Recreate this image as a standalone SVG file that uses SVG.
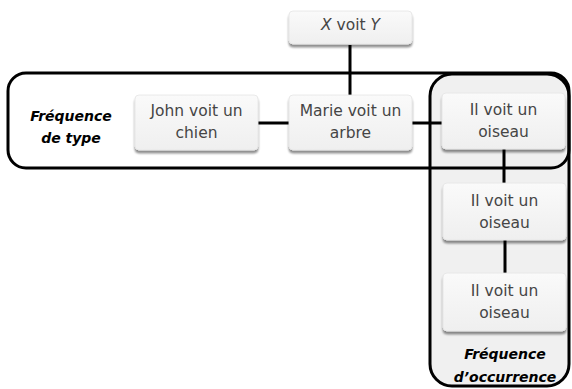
<svg xmlns="http://www.w3.org/2000/svg" width="572" height="389" viewBox="0 0 572 389">
  <defs>
    <linearGradient id="nodeFill" x1="0" y1="0" x2="0" y2="1">
      <stop offset="0" stop-color="#fafafa"/>
      <stop offset="1" stop-color="#efefef"/>
    </linearGradient>
    <filter id="shadow" x="-10%" y="-10%" width="120%" height="140%">
      <feGaussianBlur in="SourceAlpha" stdDeviation="1.2"/>
      <feOffset dx="0" dy="2.5" result="b"/>
      <feComponentTransfer><feFuncA type="linear" slope="0.45"/></feComponentTransfer>
      <feMerge><feMergeNode/><feMergeNode in="SourceGraphic"/></feMerge>
    </filter>
  </defs>
  <style>
    .node rect { fill: url(#nodeFill); stroke: #e4e4e4; stroke-width: 0.8; filter: url(#shadow); }
    .node text { font-family: "DejaVu Sans", Verdana, sans-serif; font-size: 15.5px; fill: #454545; text-anchor: middle; }
    .group { fill: none; stroke: #000; stroke-width: 3; }
    .glabel { font-family: "DejaVu Sans", Verdana, sans-serif; font-size: 14px; font-weight: bold; font-style: italic; fill: #000; text-anchor: middle; }
    .link { stroke: #000; stroke-width: 3; fill: none; }
  </style>

  <!-- grouping frames -->
  <g id="frames">
    <rect x="8" y="73" width="561" height="95" rx="18" fill="#fff" stroke="none"/>
    <rect x="430" y="74" width="139" height="312" rx="22" class="group" style="fill:#f0f0f0"/>
    <rect x="8" y="73" width="561" height="95" rx="18" class="group"/>
    <text class="glabel" x="71" y="121">Fréquence</text>
    <text class="glabel" x="71" y="143">de type</text>
    <text class="glabel" x="505" y="359">Fréquence</text>
    <text class="glabel" x="505" y="382">d’occurrence</text>
  </g>

  <!-- connectors -->
  <g id="connectors">
    <line class="link" x1="350" y1="45" x2="350" y2="96"/>
    <line class="link" x1="258" y1="123" x2="289" y2="123"/>
    <line class="link" x1="412" y1="123" x2="443" y2="123"/>
    <line class="link" x1="504" y1="149" x2="504" y2="184"/>
    <line class="link" x1="505" y1="240" x2="505" y2="274"/>
  </g>

  <g id="n-xvoity" class="node">
    <rect x="289" y="11" width="123" height="33" rx="4"/>
    <text x="350.5" y="30"><tspan font-style="italic">X</tspan> voit <tspan font-style="italic">Y</tspan></text>
  </g>
  <g id="n-john" class="node">
    <rect x="135" y="95" width="123" height="55" rx="4"/>
    <text x="196.5" y="116">John voit un</text>
    <text x="196.5" y="138">chien</text>
  </g>
  <g id="n-marie" class="node">
    <rect x="289" y="95" width="123" height="55" rx="4"/>
    <text x="350.5" y="116">Marie voit un</text>
    <text x="350.5" y="138">arbre</text>
  </g>
  <g id="n-oiseau1" class="node">
    <rect x="442" y="93" width="123" height="56" rx="4"/>
    <text x="503.5" y="115">Il voit un</text>
    <text x="503.5" y="137">oiseau</text>
  </g>
  <g id="n-oiseau2" class="node">
    <rect x="443" y="183" width="123" height="57" rx="4"/>
    <text x="504.5" y="206">Il voit un</text>
    <text x="504.5" y="228">oiseau</text>
  </g>
  <g id="n-oiseau3" class="node">
    <rect x="443" y="273" width="123" height="58" rx="4"/>
    <text x="504.5" y="296">Il voit un</text>
    <text x="504.5" y="318">oiseau</text>
  </g>
</svg>
